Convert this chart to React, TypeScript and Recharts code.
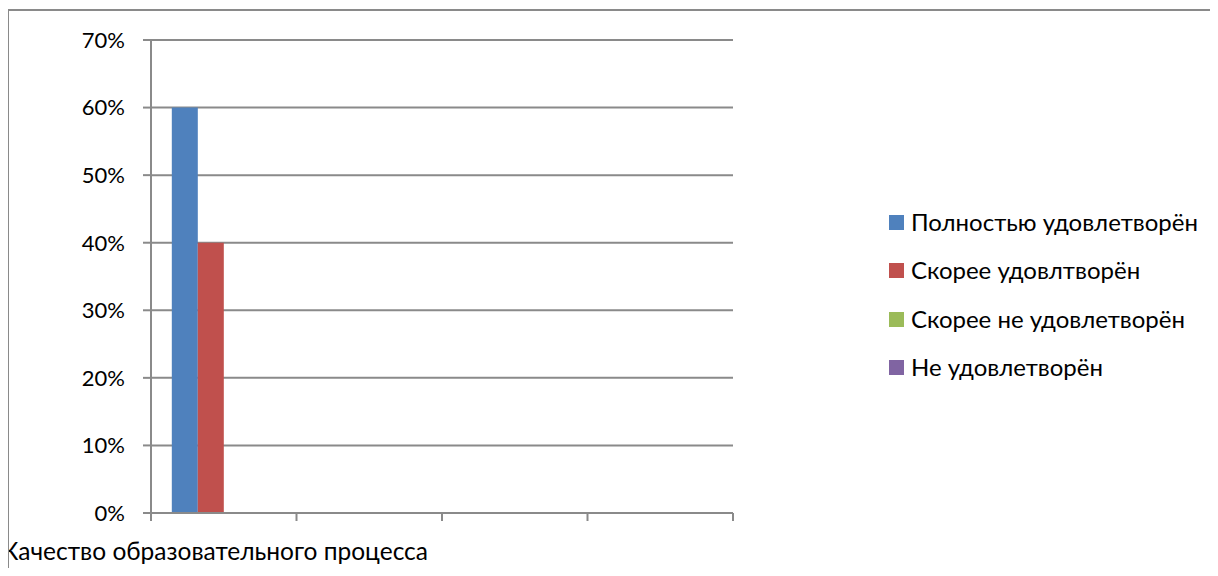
import React from 'react';
import { BarChart, Bar, XAxis, YAxis, CartesianGrid, Legend } from 'recharts';

const categories = ['Качество образовательного процесса', '', '', ''];
const fullySatisfied = [0.6, null, null, null];
const ratherSatisfied = [0.4, null, null, null];
const ratherNotSatisfied = [0, null, null, null];
const notSatisfied = [0, null, null, null];
const yTicks = [0, 0.1, 0.2, 0.3, 0.4, 0.5, 0.6, 0.7];

const series = [
  { key: 'full', name: 'Полностью удовлетворён', color: '#4F81BD', values: fullySatisfied },
  { key: 'rather', name: 'Скорее удовлтворён', color: '#C0504D', values: ratherSatisfied },
  { key: 'ratherNot', name: 'Скорее не удовлетворён', color: '#9BBB59', values: ratherNotSatisfied },
  { key: 'not', name: 'Не удовлетворён', color: '#8064A2', values: notSatisfied },
];

const data = categories.map((name, i) => {
  const row: any = { name };
  series.forEach(s => { row[s.key] = s.values[i]; });
  return row;
});

const W = 1218;
const H = 576;
const MARGIN = { top: 40, right: 485, bottom: 0, left: 0 };
const Y_AXIS_W = 151;
const X_AXIS_H = 63;
const BAND = (W - MARGIN.left - Y_AXIS_W - MARGIN.right) / categories.length;
const GRAY = '#8a8a8a';

// Excel puts category ticks on the band edges, so draw them here
const CategoryTick = (props: any) => {
  const { x, y, index } = props;
  const left = x - BAND / 2;
  return (
    <g>
      <line x1={left} y1={y - 8} x2={left} y2={y} stroke={GRAY} strokeWidth={2} />
      {index === categories.length - 1 && (
        <line x1={x + BAND / 2} y1={y - 8} x2={x + BAND / 2} y2={y} stroke={GRAY} strokeWidth={2} />
      )}
      {categories[index] && (
        <text x={428} y={y + 39} fill="#000" fontSize={24.5} textAnchor="end">
          {categories[index]}
        </text>
      )}
    </g>
  );
};

const LegendContent = () => (
  <div>
    {series.map(s => (
      <div key={s.key} style={{ display: 'flex', alignItems: 'center', height: 48.5 }}>
        <span style={{ width: 15, height: 15, background: s.color, marginRight: 7, flex: 'none' }} />
        <span style={{ fontSize: 24, color: '#000', whiteSpace: 'nowrap', lineHeight: 1.2 }}>{s.name}</span>
      </div>
    ))}
  </div>
);

export default function App() {
  return (
    <div style={{ margin: -8, width: W, height: H, position: 'relative', overflow: 'hidden', fontFamily: 'Lato, sans-serif', background: '#fff' }}>
      <BarChart width={W} height={H} data={data} margin={MARGIN} barCategoryGap="14.3%" barGap={0}>
        <CartesianGrid vertical={false} stroke={GRAY} strokeWidth={2} />
        <XAxis
          dataKey="name"
          height={X_AXIS_H}
          axisLine={{ stroke: GRAY, strokeWidth: 2 }}
          tickLine={false}
          tickSize={8}
          tickMargin={0}
          interval={0}
          tick={<CategoryTick />}
        />
        <YAxis
          width={Y_AXIS_W}
          domain={[0, 0.7]}
          ticks={yTicks}
          tickFormatter={(v: number) => `${Math.round(v * 100)}%`}
          axisLine={{ stroke: GRAY, strokeWidth: 2 }}
          tickLine={{ stroke: GRAY, strokeWidth: 2 }}
          tickSize={8}
          tickMargin={18}
          tick={{ fill: '#000', fontSize: 22 }}
        />
        <Legend
          layout="vertical"
          align="center"
          verticalAlign="middle"
          content={<LegendContent />}
          wrapperStyle={{ left: 889, top: 198, width: 329 }}
        />
        {series.map(s => (
          <Bar key={s.key} dataKey={s.key} name={s.name} fill={s.color} isAnimationActive={false} />
        ))}
      </BarChart>
      <div
        style={{
          position: 'absolute',
          left: 7,
          top: 9,
          width: 1400,
          height: 800,
          borderLeft: `2px solid ${GRAY}`,
          borderTop: `2px solid ${GRAY}`,
          pointerEvents: 'none',
          zIndex: 5,
        }}
      />
    </div>
  );
}
